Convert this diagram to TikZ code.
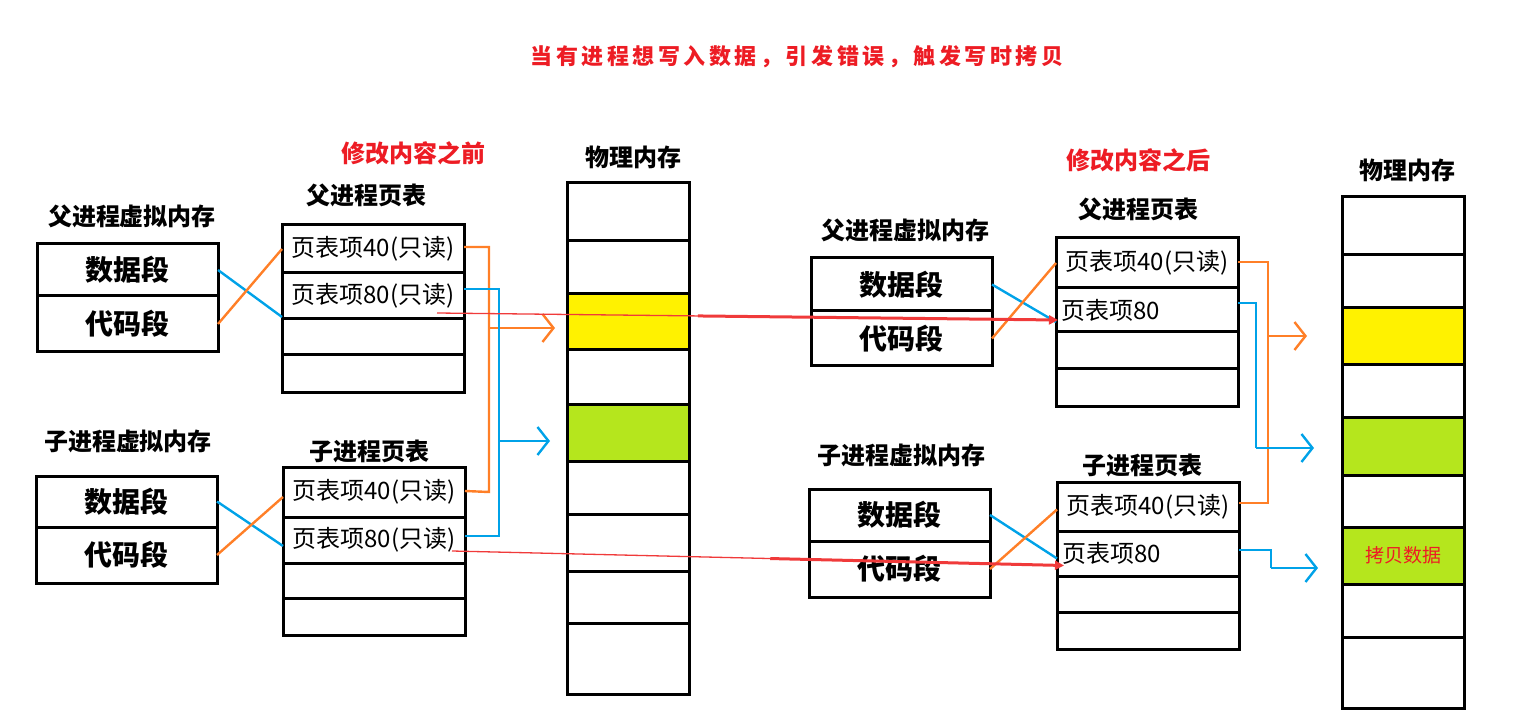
\documentclass[tikz,border=0pt]{standalone}
\usepackage{fontspec}
\setmainfont{Noto Sans CJK SC}
\usetikzlibrary{arrows.meta,calc}
\definecolor{ob}{HTML}{FF7F27}
\definecolor{bb}{HTML}{00A2E8}
\definecolor{yb}{HTML}{FFF200}
\definecolor{gb}{HTML}{B5E61D}
\definecolor{rt}{HTML}{ED1C24}
\definecolor{rl}{HTML}{F03A3A}
\begin{document}
\begin{tikzpicture}[x=1pt,y=-1pt,
  cell/.style={draw,line width=3pt,anchor=north west,inner sep=0pt,outer sep=0pt},
  vm/.style={cell,minimum width=181pt,font=\fontsize{28}{30}\selectfont\bfseries},
  pt/.style={cell,minimum width=182pt,font=\fontsize{24}{26}\selectfont},
  pm/.style={cell,minimum width=122pt},
  lbl/.style={font=\fontsize{24}{26}\selectfont\bfseries,inner sep=0pt},
  rlbl/.style={lbl,text=rt},
  oc/.style={draw=ob,line width=2.4pt},
  bc/.style={draw=bb,line width=2.4pt},
  barb/.style={-{Straight Barb[length=11pt,width=28pt]}},
  redthin/.style={draw=rl,line width=1.3pt},
  redthick/.style={draw=rl,line width=3pt,-{Triangle[length=9pt,width=9pt]}}
]
\useasboundingbox (0,0) rectangle (1540,727);

% title
\node[inner sep=0pt,text=rt,font=\fontsize{22}{24}\selectfont\bfseries\addfontfeatures{LetterSpace=16}] (title) at (797,57) {当有进程想写入数据，引发错误，触发写时拷贝};

% ================= left half =================
\node[rlbl] (before) at (413,153) {修改内容之前};
\node[lbl] (pmL) at (633,157) {物理内存};
\node[lbl] (pvmL) at (132,216) {父进程虚拟内存};
\node[lbl] (ptL) at (366,195) {父进程页表};
\node[lbl] (cvmL) at (128,441) {子进程虚拟内存};
\node[lbl] (ctL) at (369,451) {子进程页表};

\node[vm,minimum height=52pt] (pvd) at (37,244) {数据段};
\node[vm,minimum height=56pt] (pvc) at (37,296) {代码段};
\node[vm,minimum height=51pt] (cvd) at (36,476) {数据段};
\node[vm,minimum height=56pt] (cvc) at (36,527) {代码段};

\node[pt,minimum height=48pt] (pt40) at (282,225) {页表项40(只读)};
\node[pt,minimum height=46pt] (pt80) at (282,273) {页表项80(只读)};
\node[pt,minimum height=36pt] (pt3) at (282,319) {};
\node[pt,minimum height=37pt] (pt4) at (282,355) {};

\node[pt,minimum height=50pt] (ct40) at (283,467) {页表项40(只读)};
\node[pt,minimum height=46pt] (ct80) at (283,517) {页表项80(只读)};
\node[pt,minimum height=35pt] (ct3) at (283,563) {};
\node[pt,minimum height=37pt] (ct4) at (283,598) {};

\node[pm,minimum height=58pt] (m1) at (567,183) {};
\node[pm,minimum height=53pt] (m2) at (567,241) {};
\node[pm,minimum height=56pt,fill=yb] (m3) at (567,294) {};
\node[pm,minimum height=54pt] (m4) at (567,350) {};
\node[pm,minimum height=57pt,fill=gb] (m5) at (567,404) {};
\node[pm,minimum height=53pt] (m6) at (567,461) {};
\node[pm,minimum height=57pt] (m7) at (567,514) {};
\node[pm,minimum height=52pt] (m8) at (567,571) {};
\node[pm,minimum height=71pt] (m9) at (567,623) {};

% cross links left
\draw[bc] (pvd.east) -- ($(pt80.south west)+(0,-2)$);
\draw[oc] (pvc.east) -- (pt40.west);
\draw[bc] (cvd.east) -- ($(ct80.west)+(0,6)$);
\draw[oc] (cvc.east) -- ($(ct40.west)+(0,5)$);

% page table -> memory left
\coordinate (oLa) at (555,328);
\coordinate (bLa) at (550,441);
\draw[oc] ($(pt40.east)+(0,-2)$) -- ++(25,0) coordinate (oL) -- (oL |- ct40.east) -- ($(ct40.east)+(0,-1)$);
\draw[oc,barb] (oL |- oLa) -- (oLa);
\draw[bc] ($(pt80.east)+(0,-7)$) -- ++(35,0) coordinate (bL) -- (bL |- 0,536) -- ($(ct80.east)+(0,-4)$);
\draw[bc,barb] (bL |- bLa) -- (bLa);

% ================= right half =================
\node[rlbl] (after) at (1138,160) {修改内容之后};
\node[lbl] (pmR) at (1407,170) {物理内存};
\node[lbl] (pvmR) at (905,230) {父进程虚拟内存};
\node[lbl] (ptR) at (1138,209) {父进程页表};
\node[lbl] (cvmR) at (901,455) {子进程虚拟内存};
\node[lbl] (ctR) at (1142,465) {子进程页表};

\node[vm,minimum height=53pt] (rpvd) at (811,258) {数据段};
\node[vm,minimum height=55pt] (rpvc) at (811,311) {代码段};
\node[vm,minimum height=52pt] (rcvd) at (809,489) {数据段};
\node[vm,minimum height=56pt] (rcvc) at (809,541) {代码段};

\node[pt,minimum height=50pt] (rpt40) at (1056,238) {页表项40(只读)};
\node[pt,minimum height=44pt,text width=172pt,align=left] (rpt80) at (1056,288) {页表项80};
\node[pt,minimum height=37pt] (rpt3) at (1056,332) {};
\node[pt,minimum height=37pt] (rpt4) at (1056,369) {};

\node[pt,minimum height=49pt] (rct40) at (1057,482) {页表项40(只读)};
\node[pt,minimum height=45pt,text width=172pt,align=left] (rct80) at (1057,531) {页表项80};
\node[pt,minimum height=36pt] (rct3) at (1057,576) {};
\node[pt,minimum height=37pt] (rct4) at (1057,612) {};

\node[pm,minimum height=58pt] (n1) at (1342,197) {};
\node[pm,minimum height=53pt] (n2) at (1342,255) {};
\node[pm,minimum height=57pt,fill=yb] (n3) at (1342,308) {};
\node[pm,minimum height=52pt] (n4) at (1342,365) {};
\node[pm,minimum height=58pt,fill=gb] (n5) at (1342,417) {};
\node[pm,minimum height=52pt] (n6) at (1342,475) {};
\node[pm,minimum height=57pt,fill=gb,text=rt,font=\fontsize{19}{22}\selectfont] (n7) at (1342,527) {拷贝数据};
\node[pm,minimum height=53pt] (n8) at (1342,584) {};
\node[pm,minimum height=71pt] (n9) at (1342,637) {};

% cross links right
\draw[bc] (rpvd.east) -- ($(rpt80.west)+(0,12)$);
\draw[oc] (rpvc.east) -- (rpt40.west);
\draw[bc] (rcvd.east) -- ($(rct80.west)+(0,5)$);
\draw[oc] (rcvc.east) -- ($(rct40.west)+(0,3)$);

% page table -> memory right
\coordinate (oRa) at (1307,336);
\coordinate (bRa) at (1314,448);
\coordinate (cRa) at (1318,568);
\draw[oc] ($(rpt40.east)+(0,-1)$) -- ++(30,0) coordinate (oR) -- (oR |- 0,503) -- ($(rct40.east)+(0,-3.5)$);
\draw[oc,barb] (oR |- oRa) -- (oRa);
\draw[bc] ($(rpt80.east)+(0,-7)$) -- ++(18,0) coordinate (bR) -- (bR |- bRa);
\draw[bc,barb] (bR |- bRa) -- (bRa);
\draw[bc] ($(rct80.east)+(0,-3.5)$) -- ++(32,0) coordinate (cR) -- (cR |- cRa);
\draw[bc,barb] (cR |- cRa) -- (cRa);

% red write arrows
\coordinate (r1s) at (437,313);
\coordinate (r2s) at (452,551);
\coordinate (r1e) at ($(rpt80.west)+(2,10)$);
\coordinate (r2e) at ($(rct80.west)+(7,12)$);
\draw[redthin] (r1s) -- ($(r1s)!0.45!(r1e)$);
\draw[redthick] ($(r1s)!0.42!(r1e)$) -- (r1e);
\draw[redthin] (r2s) -- ($(r2s)!0.55!(r2e)$);
\draw[redthick] ($(r2s)!0.52!(r2e)$) -- (r2e);
\end{tikzpicture}
\end{document}
